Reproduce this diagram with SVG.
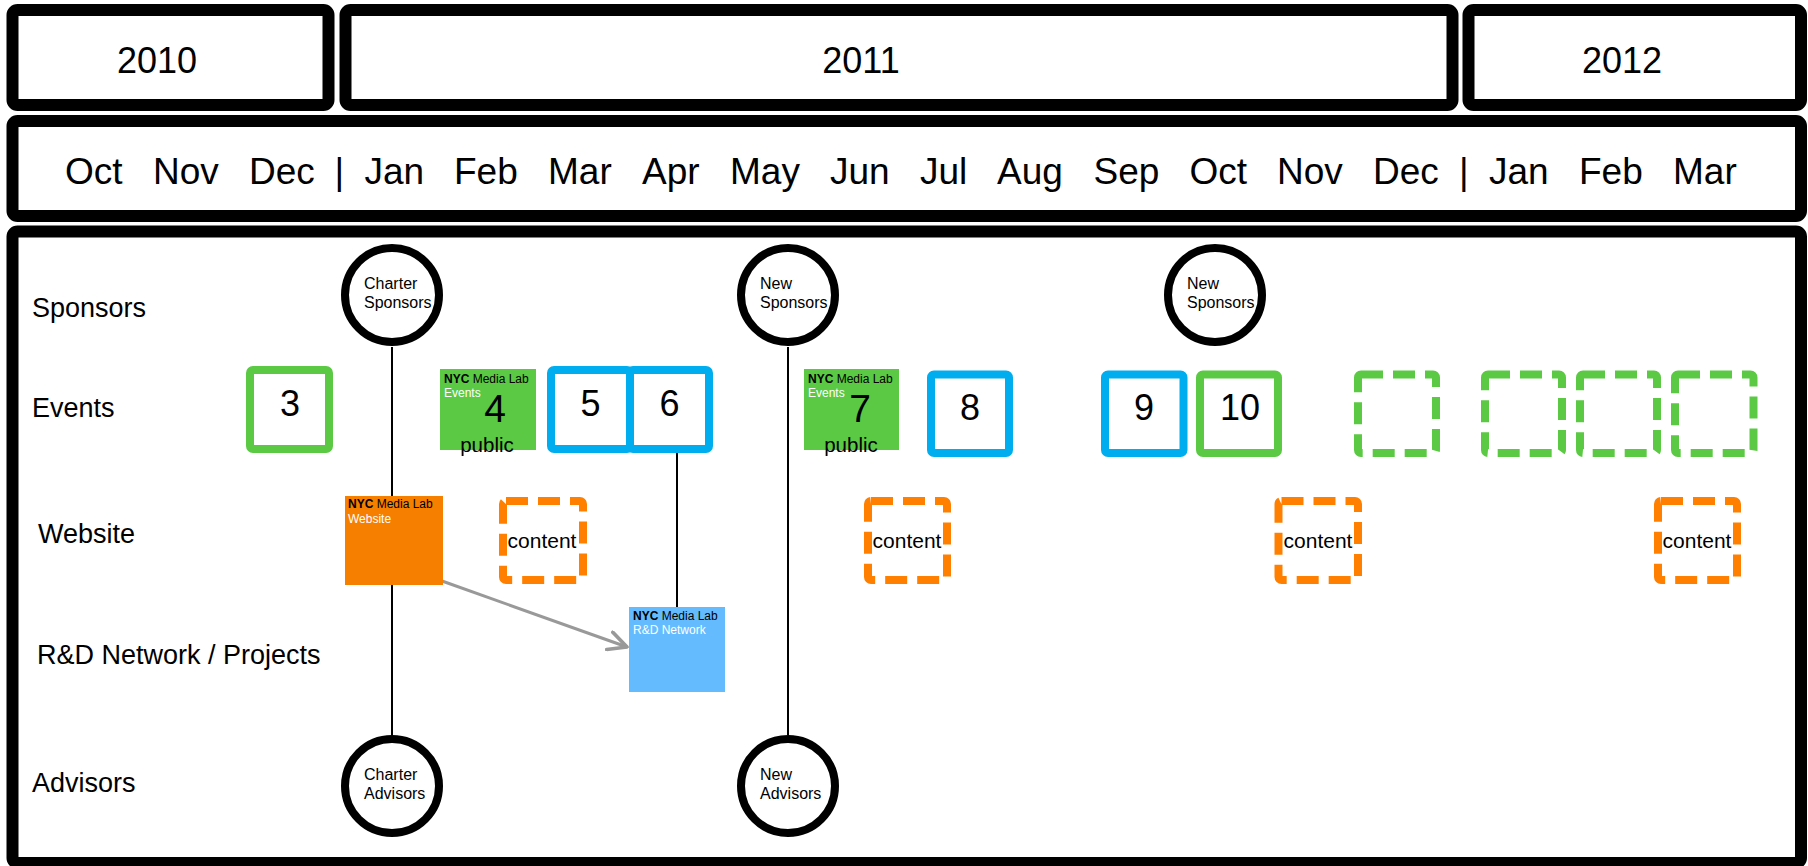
<svg xmlns="http://www.w3.org/2000/svg" width="1808" height="866" viewBox="0 0 1808 866">
<defs>
<style>
text{font-family:"Liberation Sans",Arial,sans-serif;fill:#000}
.frame{fill:#fff;stroke:#000;stroke-width:12}
.yr{font-size:36px;text-anchor:middle}
.mo{font-size:37px}
.lbl{font-size:27px}
.circ{fill:#fff;stroke:#000;stroke-width:8}
.ct{font-size:16px}
.vline{stroke:#000;stroke-width:2}
.gbox{fill:#fff;stroke:#5BC944;stroke-width:8}
.bbox{fill:#fff;stroke:#00AEEF;stroke-width:8}
.gdash{fill:none;stroke:#5BC944;stroke-width:8;stroke-dasharray:22 10}
.odash{fill:none;stroke:#FF8000;stroke-width:8;stroke-dasharray:22 10}
.num{font-size:36px;text-anchor:middle}
.numf{font-size:39px;text-anchor:middle}
.small{font-size:12px}
.wh{fill:#fff}
.pub{font-size:20.5px;text-anchor:middle}
.cnt{font-size:21px;text-anchor:middle}
</style>
<marker id="arr" viewBox="0 0 12 12" refX="11" refY="6" markerWidth="22" markerHeight="22" markerUnits="userSpaceOnUse" orient="auto">
<path d="M1,1 L11,6 L1,11" fill="none" stroke="#999" stroke-width="2" stroke-linecap="round" stroke-linejoin="round"/>
</marker>
</defs>
<rect width="1808" height="866" fill="#fff"/>

<g id="years">
<rect class="frame" x="12.5" y="10" width="316" height="95" rx="5"/>
<text class="yr" x="157" y="73">2010</text>
<rect class="frame" x="345.5" y="10" width="1107" height="95" rx="5"/>
<text class="yr" x="861" y="73">2011</text>
<rect class="frame" x="1468.5" y="10" width="332.5" height="95" rx="5"/>
<text class="yr" x="1622" y="73">2012</text>
</g>

<g id="months">
<rect class="frame" x="12.5" y="121" width="1788.5" height="95" rx="5"/>
<text class="mo" y="184">
<tspan x="65">Oct</tspan><tspan x="153">Nov</tspan><tspan x="249">Dec</tspan><tspan x="334.5">|</tspan><tspan x="364.5">Jan</tspan><tspan x="454">Feb</tspan><tspan x="548">Mar</tspan><tspan x="642">Apr</tspan><tspan x="730">May</tspan><tspan x="830">Jun</tspan><tspan x="920">Jul</tspan><tspan x="997">Aug</tspan><tspan x="1093.5">Sep</tspan><tspan x="1189.5">Oct</tspan><tspan x="1277">Nov</tspan><tspan x="1373">Dec</tspan><tspan x="1459">|</tspan><tspan x="1489">Jan</tspan><tspan x="1579">Feb</tspan><tspan x="1673">Mar</tspan>
</text>
</g>

<g id="main">
<rect class="frame" x="12.5" y="231.5" width="1788.5" height="631.5" rx="5"/>
<text class="lbl" x="32" y="317">Sponsors</text>
<text class="lbl" x="32" y="417">Events</text>
<text class="lbl" x="38" y="543">Website</text>
<text class="lbl" x="37" y="664">R&amp;D Network / Projects</text>
<text class="lbl" x="32" y="792">Advisors</text>
</g>

<g id="connectors">
<line class="vline" x1="392" y1="347" x2="392" y2="735"/>
<line class="vline" x1="788" y1="347" x2="788" y2="735"/>
<line class="vline" x1="677" y1="452" x2="677" y2="607"/>
<line x1="442" y1="581" x2="627" y2="647" stroke="#999" stroke-width="3" marker-end="url(#arr)"/>
</g>

<g id="charter-sponsors">
<circle class="circ" cx="392" cy="295" r="47"/>
<text class="ct" x="364" y="289">Charter</text>
<text class="ct" x="364" y="307.5">Sponsors</text>
</g>
<g id="new-sponsors-1">
<circle class="circ" cx="788" cy="295" r="47"/>
<text class="ct" x="760" y="289">New</text>
<text class="ct" x="760" y="307.5">Sponsors</text>
</g>
<g id="new-sponsors-2">
<circle class="circ" cx="1215" cy="295" r="47"/>
<text class="ct" x="1187" y="289">New</text>
<text class="ct" x="1187" y="307.5">Sponsors</text>
</g>
<g id="charter-advisors">
<circle class="circ" cx="392" cy="786" r="47"/>
<text class="ct" x="364" y="780">Charter</text>
<text class="ct" x="364" y="798.5">Advisors</text>
</g>
<g id="new-advisors">
<circle class="circ" cx="788" cy="786" r="47"/>
<text class="ct" x="760" y="780">New</text>
<text class="ct" x="760" y="798.5">Advisors</text>
</g>

<g id="event-3">
<rect class="gbox" x="250" y="370" width="79" height="79" rx="3"/>
<text class="num" x="290" y="416">3</text>
</g>
<g id="event-4">
<rect x="440" y="369" width="96" height="81" fill="#5BC944"/>
<text class="small" x="444" y="383"><tspan font-weight="bold">NYC</tspan> Media Lab</text>
<text class="small wh" x="444" y="397">Events</text>
<text class="numf" x="495" y="422">4</text>
<text class="pub" x="487" y="451.5">public</text>
</g>
<g id="event-5">
<rect class="bbox" x="551" y="370" width="79" height="79" rx="3"/>
<text class="num" x="590.5" y="416">5</text>
</g>
<g id="event-6">
<rect class="bbox" x="630" y="370" width="79" height="79" rx="3"/>
<text class="num" x="669.5" y="416">6</text>
</g>
<g id="event-7">
<rect x="804" y="369" width="95" height="81" fill="#5BC944"/>
<text class="small" x="808" y="383"><tspan font-weight="bold">NYC</tspan> Media Lab</text>
<text class="small wh" x="808" y="397">Events</text>
<text class="numf" x="860" y="422">7</text>
<text class="pub" x="851" y="451.5">public</text>
</g>
<g id="event-8">
<rect class="bbox" x="931" y="374.5" width="78" height="78.5" rx="3"/>
<text class="num" x="970" y="420">8</text>
</g>
<g id="event-9">
<rect class="bbox" x="1105" y="374.5" width="78.5" height="78.5" rx="3"/>
<text class="num" x="1144" y="420">9</text>
</g>
<g id="event-10">
<rect class="gbox" x="1200" y="374.5" width="78" height="78.5" rx="3"/>
<text class="num" x="1240" y="420">10</text>
</g>
<g id="event-future-1"><rect class="gdash" x="1358" y="374.5" width="78" height="78.5" rx="3"/></g>
<g id="event-future-2"><rect class="gdash" x="1485" y="374.5" width="77" height="78.5" rx="3"/></g>
<g id="event-future-3"><rect class="gdash" x="1580" y="374.5" width="77" height="78.5" rx="3"/></g>
<g id="event-future-4"><rect class="gdash" x="1675" y="374.5" width="78.5" height="78.5" rx="3"/></g>

<g id="website">
<rect x="345" y="496" width="98" height="89" fill="#F77F00"/>
<text class="small" x="348" y="508"><tspan font-weight="bold">NYC</tspan> Media Lab</text>
<text class="small wh" x="348" y="523">Website</text>
</g>
<g id="content-1">
<rect class="odash" x="503" y="501" width="80" height="79" rx="3"/>
<text class="cnt" x="542" y="548">content</text>
</g>
<g id="content-2">
<rect class="odash" x="868" y="501" width="79" height="79" rx="3"/>
<text class="cnt" x="907" y="548">content</text>
</g>
<g id="content-3">
<rect class="odash" x="1278.5" y="501" width="79.5" height="79" rx="3"/>
<text class="cnt" x="1318" y="548">content</text>
</g>
<g id="content-4">
<rect class="odash" x="1658" y="501" width="79" height="79" rx="3"/>
<text class="cnt" x="1697" y="548">content</text>
</g>

<g id="rd-network">
<rect x="629" y="607" width="96" height="85" fill="#64BCFF"/>
<text class="small" x="633" y="620"><tspan font-weight="bold">NYC</tspan> Media Lab</text>
<text class="small wh" x="633" y="634">R&amp;D Network</text>
</g>
</svg>
